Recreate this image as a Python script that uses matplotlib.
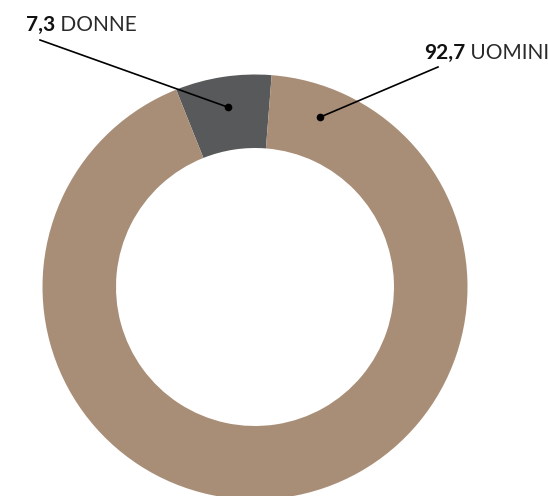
import numpy as np
import matplotlib.pyplot as plt
from matplotlib import font_manager

labels = ['DONNE', 'UOMINI']
values = [7.3, 92.7]
value_text = ['7,3', '92,7']
colors = ['#58595b', '#a98e77']

fams = {f.name for f in font_manager.fontManager.ttflist}
font = 'Lato' if 'Lato' in fams else 'DejaVu Sans'
plt.rcParams.update({'font.family': font})

W, H = 548, 496
fig = plt.figure(figsize=(W / 100, H / 100), dpi=100)
ax = fig.add_axes([0, 0, 1, 1])

cx, cy = 255, H - 287
R = 212.5
ring = 73.5
start = 85.5

ax.pie(values, colors=colors, startangle=start, counterclock=True,
       center=(cx, cy), radius=R, frame=True,
       wedgeprops=dict(width=ring, linewidth=0))
ax.set_xlim(0, W)
ax.set_ylim(0, H)
ax.set_aspect('equal')
ax.axis('off')

# anchor angles for the label dots
ang_donne = start + values[0] / 100 * 360 / 2
ang_uomini = 69.0
anchors = [ang_donne, ang_uomini]
text_pos = [(26, H - 31), (424, H - 59)]
line_end = [(40, H - 40), (438, H - 67)]

for i in range(2):
    a = np.deg2rad(anchors[i])
    px, py = cx + 182 * np.cos(a), cy + 182 * np.sin(a)
    ax.plot([px, line_end[i][0]], [py, line_end[i][1]], color='black', lw=1.2)
    ax.plot(px, py, 'o', color='black', ms=4.5)
    t = ax.text(text_pos[i][0], text_pos[i][1], value_text[i], fontsize=15,
                fontweight='bold', ha='left', va='baseline', color='#111111')
    ax.annotate(' ' + labels[i], xy=(1, 0), xycoords=t, fontsize=15,
                fontweight='normal', ha='left', va='bottom', color='#2a2a2a')

fig.savefig('out.png', dpi=100)
